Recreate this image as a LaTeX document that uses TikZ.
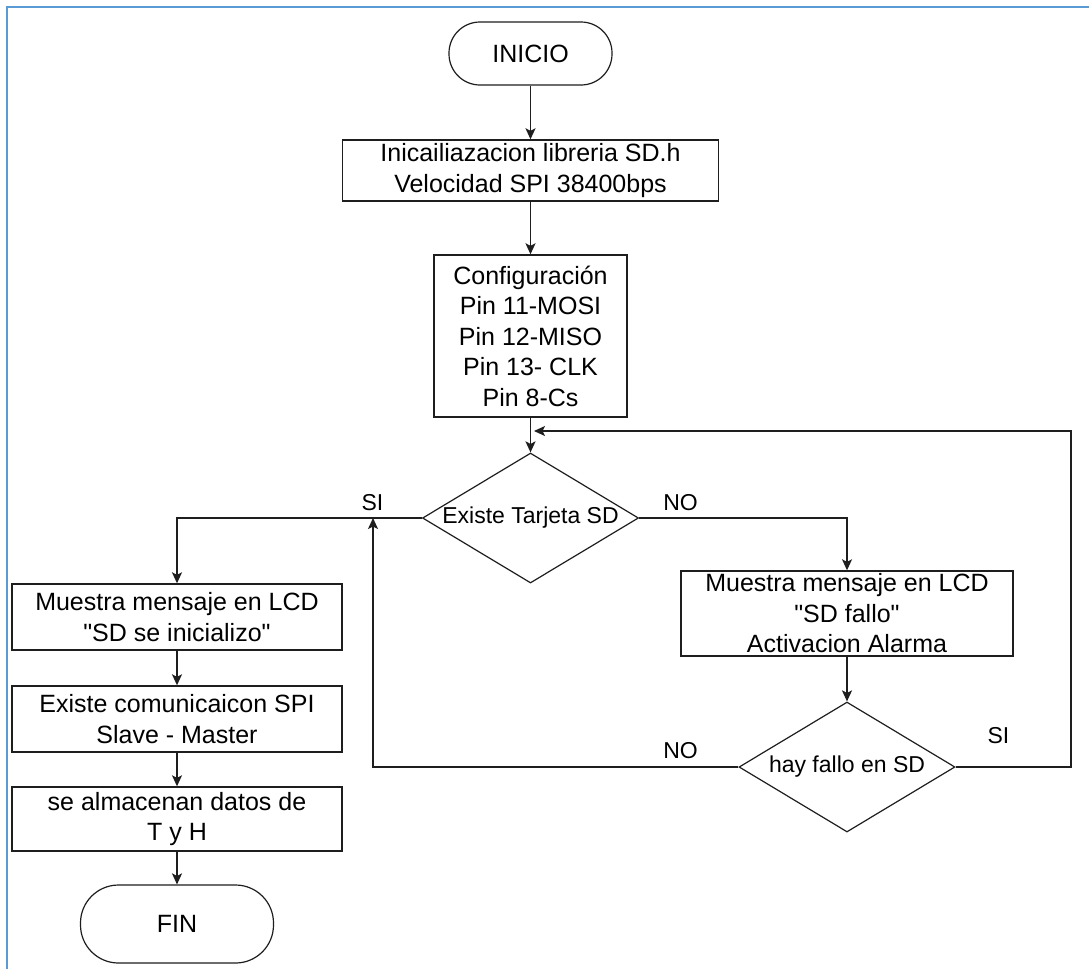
\documentclass[tikz,border=0pt]{standalone}
\usepackage{fontspec}
\newfontfamily\chartfont{Liberation Sans}
\usetikzlibrary{shapes.geometric,arrows.meta}
\definecolor{frameblue}{RGB}{91,155,213}
\definecolor{ink}{RGB}{30,30,30}
\begin{document}
\begin{tikzpicture}[x=1pt,y=-1pt,
  proc/.style={draw=ink, line width=1.4pt, inner sep=0pt, align=center,
    font=\chartfont\fontsize{25}{30.5}\selectfont},
  term/.style={draw=ink, line width=1.2pt, inner sep=0pt,
    font=\chartfont\fontsize{25}{30}\selectfont},
  decision/.style={diamond, draw=ink, line width=1.2pt, inner sep=0pt,
    aspect=1.66, minimum width=216pt, minimum height=130pt,
    font=\chartfont\fontsize{23}{27}\selectfont},
  lbl/.style={anchor=base, inner sep=0pt, font=\chartfont\fontsize{23}{27}\selectfont},
  flow/.style={draw=ink, line width=1.4pt, -{Stealth[length=11pt,width=10pt,inset=2.5pt]}}
]
% page and frame
\fill[white] (0,0) rectangle (1089,969);
\useasboundingbox (0,0) rectangle (1089,969);
\draw[frameblue, line width=2pt] (7,969) -- (7,7) -- (1089,7);

% main column
\node[term, minimum width=163pt, minimum height=63pt, rounded corners=31pt] (ini) at (530.5,53.5) {INICIO};
\node[proc, minimum width=376pt, minimum height=61pt] (b1) at (530.5,170.5)
  {Inicailiazacion libreria SD.h\\Velocidad SPI 38400bps};
\node[proc, minimum width=193pt, minimum height=162pt] (b2) at (530.5,336)
  {Configuración\\Pin 11-MOSI\\Pin 12-MISO\\Pin 13- CLK\\Pin 8-Cs};
\node[decision] (d1) at (530.5,518) {Existe Tarjeta SD};

% left branch (card present)
\node[proc, minimum width=330pt, minimum height=66pt] (b3) at (177,617)
  {Muestra mensaje en LCD\\"SD se inicializo"};
\node[proc, minimum width=330pt, minimum height=66pt] (b5) at (177,719)
  {Existe comunicaicon SPI\\Slave - Master};
\node[proc, minimum width=330pt, minimum height=64pt] (b6) at (177,819)
  {se almacenan datos de\\T y H};
\node[term, minimum width=193pt, minimum height=78pt, rounded corners=38pt] (fin) at (177,924) {FIN};

% right branch (card missing)
\node[proc, minimum width=332pt, minimum height=85pt] (b4) at (847,613.5)
  {Muestra mensaje en LCD\\"SD fallo"\\Activacion Alarma};
\node[decision] (d2) at (847,767) {hay fallo en SD};

% branch labels
\node[lbl] (si1) at (372.5,510) {SI};
\node[lbl] (no1) at (680.5,510) {NO};
\node[lbl] (no2) at (680.5,758) {NO};
\node[lbl] (si2) at (998.5,743) {SI};

% helper points for the return paths
\coordinate (up) at (373,518);
\coordinate (rt) at (1071,431);
\coordinate (join) at (534,431);

% connectors
\draw[flow] (ini) -- (b1);
\draw[flow] (b1) -- (b2);
\draw[flow] (b2) -- (d1);
\draw[flow] (d1.west) -| (b3.north);
\draw[flow] (d1.east) -| (b4.north);
\draw[flow] (b3) -- (b5);
\draw[flow] (b5) -- (b6);
\draw[flow] (b6) -- (fin);
\draw[flow] (b4) -- (d2);
\draw[flow] (d2.west) -| (up);
\draw[flow] (d2.east) -| (rt) -- (join);
\end{tikzpicture}
\end{document}
